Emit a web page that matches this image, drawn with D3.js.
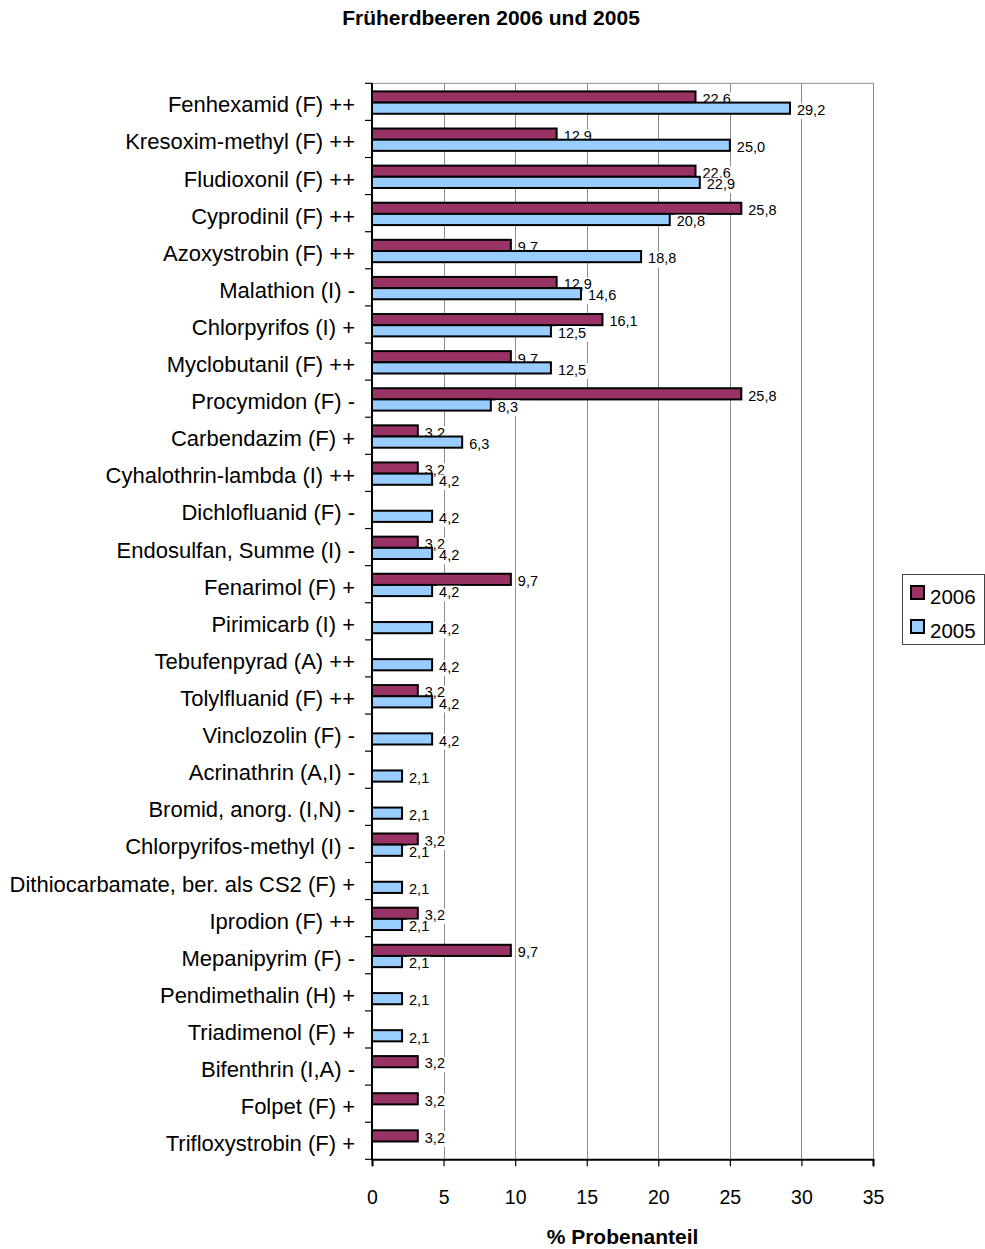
<!DOCTYPE html>
<html>
<head>
<meta charset="utf-8">
<script src="https://cdn.jsdelivr.net/npm/d3@7"></script>
<style>
  html, body { margin: 0; padding: 0; background: #fff; }
  svg { display: block; font-family: "Liberation Sans", Arial, sans-serif; }
</style>
</head>
<body>
<svg id="chart" width="985" height="1249"></svg>
<script>
// Wirkstoffe, von oben nach unten
const categories = [
  "Fenhexamid (F) ++", "Kresoxim-methyl (F) ++", "Fludioxonil (F) ++", "Cyprodinil (F) ++",
  "Azoxystrobin (F) ++", "Malathion (I) -", "Chlorpyrifos (I) +", "Myclobutanil (F) ++",
  "Procymidon (F) -", "Carbendazim (F) +", "Cyhalothrin-lambda (I) ++", "Dichlofluanid (F) -",
  "Endosulfan, Summe (I) -", "Fenarimol (F) +", "Pirimicarb (I) +", "Tebufenpyrad (A) ++",
  "Tolylfluanid (F) ++", "Vinclozolin (F) -", "Acrinathrin (A,I) -", "Bromid, anorg. (I,N) -",
  "Chlorpyrifos-methyl (I) -", "Dithiocarbamate, ber. als CS2 (F) +", "Iprodion (F) ++",
  "Mepanipyrim (F) -", "Pendimethalin (H) +", "Triadimenol (F) +", "Bifenthrin (I,A) -",
  "Folpet (F) +", "Trifloxystrobin (F) +"
];
// Probenanteil in %, null = nicht nachgewiesen
const values2006 = [22.6, 12.9, 22.6, 25.8, 9.7, 12.9, 16.1, 9.7, 25.8, 3.2, 3.2, null, 3.2, 9.7,
  null, null, 3.2, null, null, null, 3.2, null, 3.2, 9.7, null, null, 3.2, 3.2, 3.2];
const values2005 = [29.2, 25.0, 22.9, 20.8, 18.8, 14.6, 12.5, 12.5, 8.3, 6.3, 4.2, 4.2, 4.2, 4.2,
  4.2, 4.2, 4.2, 4.2, 2.1, 2.1, 2.1, 2.1, 2.1, 2.1, 2.1, 2.1, null, null, null];
const seriesNames = ["2006", "2005"];
const seriesColors = ["#993366", "#99CCFF"];
const xTicks = [0, 5, 10, 15, 20, 25, 30, 35];

const svg = d3.select("#chart");
const plot = { left: 372, right: 873, top: 83.3, bottom: 1159.3 };

const x = d3.scaleLinear().domain([0, 35]).range([plot.left, plot.right]);
const y = d3.scaleBand().domain(categories).range([plot.top, plot.bottom]).padding(0);
const ySeries = d3.scaleBand().domain(seriesNames).range([0, y.bandwidth()])
  .paddingInner(0).paddingOuter(0.66).align(0.55);

const fmt = v => d3.format(".1f")(v).replace(".", ",");

// Title
svg.append("text")
  .attr("x", 491).attr("y", 25)
  .attr("text-anchor", "middle")
  .attr("font-weight", "bold").attr("font-size", 21)
  .text("Früherdbeeren 2006 und 2005");

// Gridlines
svg.append("g").selectAll("line")
  .data(xTicks.filter(t => t > 0))
  .join("line")
  .attr("x1", d => Math.round(x(d)) + 0.5).attr("x2", d => Math.round(x(d)) + 0.5)
  .attr("y1", plot.top).attr("y2", plot.bottom)
  .attr("stroke", "#8c8c8c").attr("stroke-width", 1);

// Top border of plot area
svg.append("line")
  .attr("x1", plot.left).attr("x2", plot.right + 0.5)
  .attr("y1", plot.top).attr("y2", plot.top)
  .attr("stroke", "#8c8c8c").attr("stroke-width", 1);

const rows = categories.map((c, i) => ({ cat: c, v: [values2006[i], values2005[i]] }));

function drawSeries(si) {
  const data = rows.filter(r => r.v[si] != null);
  const g = svg.append("g");
  g.selectAll("rect.bar")
    .data(data)
    .join("rect")
    .attr("class", "bar")
    .attr("x", x(0))
    .attr("y", d => y(d.cat) + ySeries(seriesNames[si]))
    .attr("width", d => x(d.v[si]) - x(0))
    .attr("height", ySeries.bandwidth())
    .attr("fill", seriesColors[si])
    .attr("stroke", "#000").attr("stroke-width", 2);

  // value labels on an opaque white background
  const lab = g.selectAll("g.lab")
    .data(data)
    .join("g")
    .attr("class", "lab")
    .attr("transform", d => `translate(${x(d.v[si]) + 7},${y(d.cat) + ySeries(seriesNames[si]) + ySeries.bandwidth() / 2 + 6.8})`);
  lab.append("text")
    .attr("font-size", 14.5)
    .attr("fill", "#000")
    .text(d => fmt(d.v[si]));
  lab.each(function () {
    const t = d3.select(this).select("text");
    const w = t.node().getComputedTextLength();
    d3.select(this).insert("rect", "text")
      .attr("x", -2).attr("y", -11.6)
      .attr("width", w + 4).attr("height", 15.6)
      .attr("fill", "#fff");
  });
}
drawSeries(0);
drawSeries(1);

// Left axis with category labels
const gy = svg.append("g").attr("transform", `translate(${plot.left},0)`);
gy.append("line")
  .attr("x1", 0).attr("x2", 0).attr("y1", plot.top).attr("y2", plot.bottom + 1)
  .attr("stroke", "#000").attr("stroke-width", 2);
gy.selectAll("line.tk")
  .data(d3.range(categories.length + 1))
  .join("line")
  .attr("class", "tk")
  .attr("x1", -7).attr("x2", 0)
  .attr("y1", i => plot.top + i * y.step()).attr("y2", i => plot.top + i * y.step())
  .attr("stroke", "#000").attr("stroke-width", 1.2);
gy.selectAll("text.cat")
  .data(categories)
  .join("text")
  .attr("class", "cat")
  .attr("x", -17)
  .attr("y", d => y(d) + y.bandwidth() / 2 + 10.5)
  .attr("text-anchor", "end")
  .attr("font-size", 22)
  .text(d => d);

// Bottom axis
const xAxis = d3.axisBottom(x).tickValues(xTicks).tickSize(7).tickPadding(22).tickFormat(d3.format("d"));
const gx = svg.append("g").attr("transform", `translate(0,${plot.bottom})`).call(xAxis);
gx.select(".domain").attr("stroke", "#000").attr("stroke-width", 2);
gx.selectAll(".tick line").attr("stroke", "#000").attr("stroke-width", 1.2);
gx.selectAll(".tick text")
  .attr("font-size", 19.5).attr("font-family", "Liberation Sans, Arial, sans-serif")
  .attr("fill", "#000").attr("dy", 0).attr("y", 45);

// Axis title
svg.append("text")
  .attr("x", (plot.left + plot.right) / 2).attr("y", 1244)
  .attr("text-anchor", "middle")
  .attr("font-weight", "bold").attr("font-size", 21)
  .text("% Probenanteil");

// Legend
const lg = svg.append("g").attr("transform", "translate(902,574)");
lg.append("rect")
  .attr("x", 0.5).attr("y", 0.5).attr("width", 82).attr("height", 70)
  .attr("fill", "#fff").attr("stroke", "#444").attr("stroke-width", 1);
seriesNames.forEach((s, i) => {
  lg.append("rect")
    .attr("x", 9).attr("y", 12 + i * 34).attr("width", 13).attr("height", 13)
    .attr("fill", seriesColors[i]).attr("stroke", "#000").attr("stroke-width", 2);
  lg.append("text")
    .attr("x", 28).attr("y", 29.5 + i * 34.5)
    .attr("font-size", 20.5)
    .text(s);
});
</script>
</body>
</html>
